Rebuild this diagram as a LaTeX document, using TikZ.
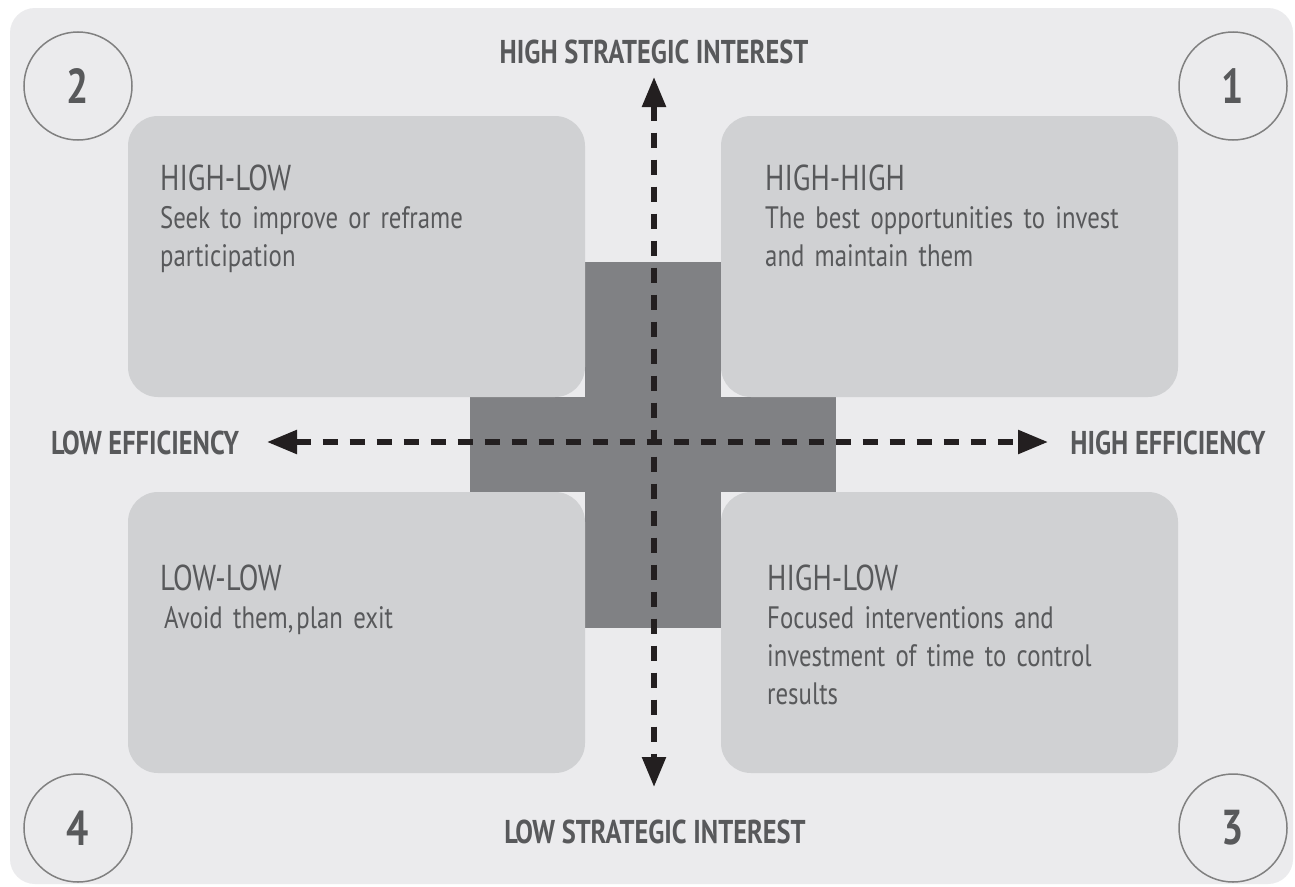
\documentclass[tikz,border=0pt]{standalone}
\usepackage{fontspec}
\setmainfont{PT Sans}[FakeStretch=0.8]
\usetikzlibrary{arrows.meta}
\definecolor{panel}{HTML}{EBEBED}
\definecolor{quadfill}{HTML}{D0D1D3}
\definecolor{crossfill}{HTML}{808184}
\definecolor{ink}{HTML}{58595B}
\definecolor{ringgray}{HTML}{808080}
\definecolor{axisink}{HTML}{231F20}
\tikzset{
  quad/.style={fill=quadfill, rounded corners=30pt, minimum width=457pt, minimum height=281pt, inner sep=0pt},
  numring/.style={circle, draw=ringgray, line width=1.5pt, minimum size=108pt, inner sep=0pt,
    text=ink, font=\fontsize{49}{49}\selectfont\bfseries},
  axislabel/.style={text=ink, inner sep=0pt, font=\fontsize{33}{33}\selectfont\bfseries},
  quadtext/.style={text=ink, inner sep=0pt, anchor=base west, align=left, text width=400pt,
    font=\fontsize{31}{38.3}\selectfont},
  axis/.style={draw=axisink, line width=5.5pt, dash pattern=on 15pt off 12pt,
    {Triangle[length=30pt, width=23pt]}-{Triangle[length=30pt, width=23pt]}},
}
\newcommand{\qtitle}[1]{{\fontsize{36}{38.3}\selectfont #1}}
\begin{document}
\begin{tikzpicture}[x=1pt, y=-1pt]
  \useasboundingbox (0,0) rectangle (1295,886);
  % panel
  \fill[white] (0,0) rectangle (1295,886);
  \fill[panel, rounded corners=25pt] (10,8) rectangle (1293,884);
  % central cross
  \fill[crossfill] (585,262) rectangle (721,628);
  \fill[crossfill] (470,397) rectangle (836,492);
  % quadrant panels
  \node[quad] (tl) at (356.5,256.5) {};
  \node[quad] (tr) at (949.5,256.5) {};
  \node[quad] (bl) at (356.5,632.5) {};
  \node[quad] (br) at (949.5,632.5) {};
  % quadrant texts
  \node[quadtext] (tltext) at (160,190) {\qtitle{HIGH-LOW}\\Seek to improve or reframe\\participation};
  \node[quadtext] (trtext) at (765,190) {\qtitle{HIGH-HIGH}\\The best opportunities to invest\\and maintain them};
  \node[quadtext] (bltext) at (160,590) {\qtitle{LOW-LOW}\\\hspace*{4pt}Avoid them,\kern3pt plan exit};
  \node[quadtext] (brtext) at (767,590) {\qtitle{HIGH-LOW}\\Focused interventions and\\investment of time to control\\results};
  % numbered rings
  \node[numring] (n2) at (78,86) {2};
  \node[numring] (n1) at (1233,86) {1};
  \node[numring] (n4) at (78,828) {4};
  \node[numring] (n3) at (1233,828) {3};
  % axis labels
  \node[axislabel] (hsi) at (654,52) {HIGH STRATEGIC INTEREST};
  \node[axislabel] (lsi) at (655,832) {LOW STRATEGIC INTEREST};
  \node[axislabel] (lef) at (145,443) {LOW EFFICIENCY};
  \node[axislabel] (hef) at (1168,443) {HIGH EFFICIENCY};
  % axes
  \coordinate (vtop) at (654,77);
  \coordinate (vbot) at (654,787);
  \coordinate (hleft) at (267,442);
  \coordinate (hright) at (1048,442);
  \draw[axis] (vtop) -- (vbot);
  \draw[axis] (hleft) -- (hright);
\end{tikzpicture}
\end{document}
